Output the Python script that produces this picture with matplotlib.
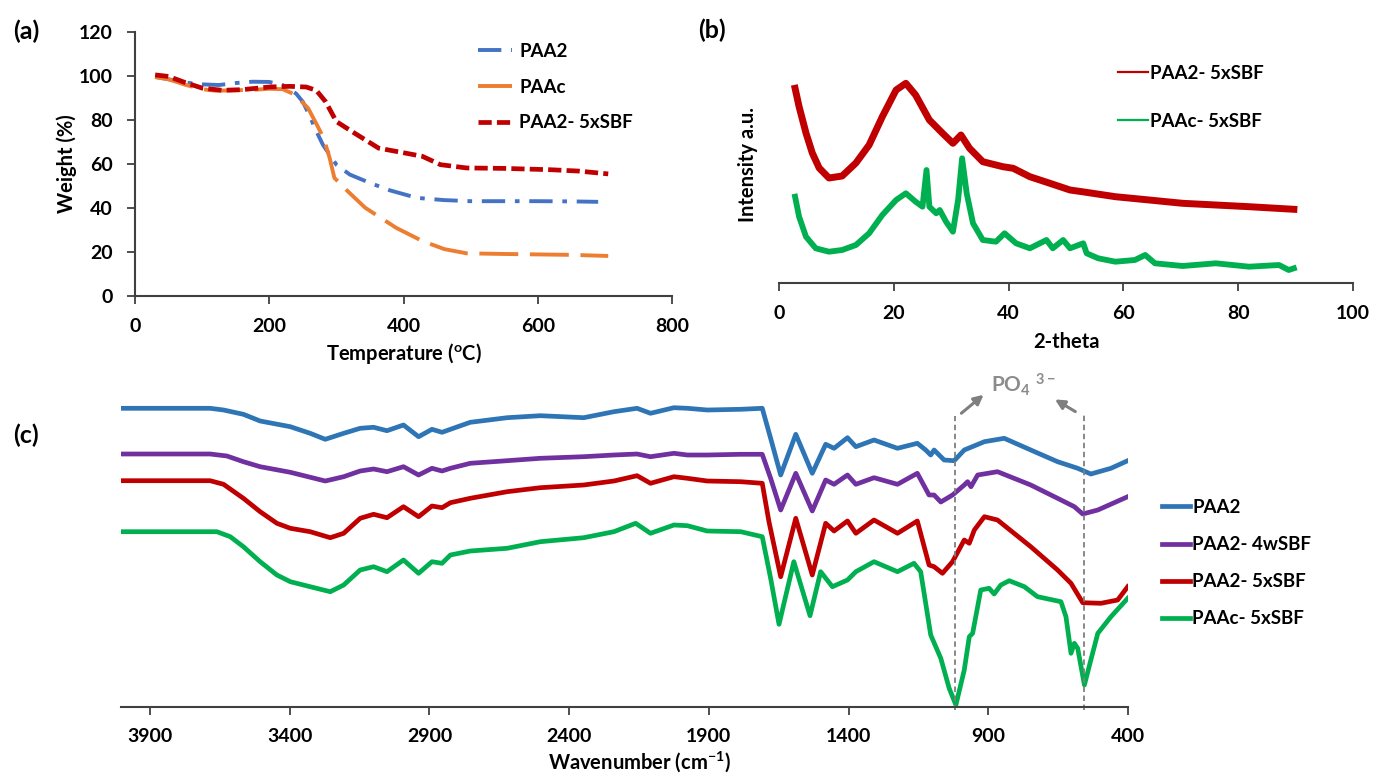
import matplotlib
matplotlib.use('Agg')
import matplotlib.pyplot as plt

plt.rcParams['font.family'] = ['Lato', 'DejaVu Sans']
plt.rcParams['font.weight'] = 'bold'
plt.rcParams['axes.labelweight'] = 'bold'
plt.rcParams['mathtext.fontset'] = 'custom'
plt.rcParams['mathtext.rm'] = 'Lato:bold'
plt.rcParams['mathtext.it'] = 'Lato:bold'
plt.rcParams['mathtext.bf'] = 'Lato:bold'

# (a) TGA
tga_paa2_T = [30, 50, 75, 100, 125, 150, 175, 200, 220, 240, 250, 260, 270, 280, 290, 300,
              320, 350, 380, 420, 460, 500, 550, 600, 650, 690]
tga_paa2_W = [99.6, 98.5, 97, 96.2, 95.9, 96.8, 97.4, 97.3, 95.9, 92, 88.3, 82, 75, 68.7, 64.2,
              59.7, 55.2, 51.4, 48, 44.6, 43.6, 43.1, 43.1, 43.1, 43.0, 42.8]
tga_paac_T = [30, 50, 75, 100, 120, 150, 180, 200, 220, 235, 244, 258, 271, 281, 290, 297,
              317, 343, 389, 428, 461, 494, 550, 600, 650, 705]
tga_paac_W = [99.5, 98.5, 96, 94, 93.3, 93.5, 93.8, 94.2, 94, 92, 89.8, 85.3, 77.8, 71.8, 62.7,
              53.7, 47.6, 40.1, 31, 25, 21.3, 19.4, 19.1, 18.9, 18.7, 18.2]
tga_sbf_T = [30, 50, 75, 100, 130, 160, 200, 230, 255, 270, 284, 300, 323, 363, 402, 428,
             455, 494, 550, 619, 660, 705]
tga_sbf_W = [100.5, 99.8, 97, 94.5, 93.5, 93.8, 95, 95.3, 95, 93.5, 88.3, 79.3, 74.8, 67.2, 65,
             63.5, 59.7, 58.2, 58, 57.4, 56.8, 55.5]
tga_xticks = [0, 200, 400, 600, 800]
tga_yticks = [0, 20, 40, 60, 80, 100, 120]

# (b) XRD
xrd_red_2t = [2.8, 3.5, 4.7, 5.8, 7.0, 8.7, 11.0, 13.4, 15.7, 18.0, 20.4, 22.1, 23.8, 26.2,
              28.5, 30.3, 31.7, 33.2, 35.5, 39.0, 40.8, 43.7, 47.2, 50.7, 52.8, 58.6, 64.5,
              70.3, 76.1, 81.9, 89.7]
xrd_red_I = [194.7, 176.3, 150, 130, 115, 105, 107, 120, 138, 166.3, 193, 199.7, 188, 163,
             149.7, 139.7, 148, 134.7, 121.3, 116.3, 114.7, 106.3, 99.7, 93, 91.3, 86.3, 83,
             79.7, 78, 76.3, 73.7]
xrd_green_2t = [2.8, 3.5, 4.7, 6.4, 8.7, 11.0, 13.4, 15.7, 18.0, 20.4, 22.1, 23.8, 25.0, 25.7,
                26.2, 27.4, 28.0, 29.1, 30.3, 31.2, 31.9, 32.7, 33.8, 35.5, 37.8, 39.3, 41.3,
                43.7, 46.6, 47.7, 49.5, 50.7, 53.0, 53.6, 55.6, 58.6, 62.0, 63.8, 65.5, 70.3,
                76.1, 81.9, 87.1, 88.8, 89.7]
xrd_green_I = [86.3, 66.3, 46.3, 34.7, 31.3, 33, 38, 49.7, 68, 83, 89.7, 81.3, 76.3, 113, 76.3,
               69.7, 73, 61.3, 51.3, 83, 124.7, 89.7, 59.7, 43, 41.3, 49.7, 39.7, 34.7, 43,
               34.7, 43, 34.7, 39.7, 29.7, 24.7, 21.3, 23, 28, 19.7, 17, 19.7, 16.3, 18, 13, 14.7]
xrd_xticks = [0, 20, 40, 60, 80, 100]

# (c) FTIR
ir_paa2_wn = [4001, 3685, 3637, 3566, 3506, 3398, 3327, 3273, 3207, 3148, 3100, 3052, 2993,
              2939, 2891, 2855, 2825, 2754, 2622, 2503, 2348, 2240, 2157, 2109, 2025, 1977,
              1906, 1786, 1709, 1679, 1643, 1589, 1530, 1482, 1452, 1404, 1374, 1309, 1225,
              1154, 1124, 1106, 1094, 1058, 1022, 986, 914, 843, 748, 652, 580, 533, 461, 401]
ir_paa2_T = [298.7, 298.7, 297, 292.7, 286, 280.3, 273.7, 267.7, 273.7, 278.7, 279.7, 276.3,
             282, 270.3, 277.7, 274.7, 277.7, 284.7, 289.3, 291.3, 289.3, 295.3, 298.7, 293.7,
             299.3, 298.7, 297, 297.7, 298.7, 268.7, 232, 272.7, 233.7, 262.7, 258.7, 269.3,
             260.3, 267, 258.7, 263.7, 257, 252, 257, 247, 246.3, 257, 265.3, 268.7, 257,
             245.3, 238.7, 233, 238.7, 246.3]
ir_4w_wn = [4001, 3685, 3625, 3566, 3506, 3398, 3273, 3207, 3148, 3100, 3052, 2993, 2939,
            2891, 2855, 2825, 2754, 2622, 2503, 2348, 2240, 2157, 2109, 2025, 1977, 1906,
            1786, 1709, 1679, 1643, 1589, 1530, 1482, 1452, 1404, 1374, 1309, 1225, 1154,
            1112, 1094, 1070, 1028, 986, 974, 962, 938, 867, 748, 652, 592, 562, 508, 401]
ir_4w_T = [253, 253, 251, 245.3, 240.3, 234.7, 226, 230.3, 236, 238, 235.3, 240.3, 232,
           238.7, 236, 238.7, 243.7, 246.3, 248.7, 250.3, 252, 253, 250.3, 253.7, 252, 252,
           252.7, 252.7, 228.7, 197, 233.7, 196, 227, 222.7, 232, 222.7, 229.3, 222.7, 233.7,
           212, 212, 205, 212, 222, 225.3, 220.3, 232, 235.3, 222, 208.7, 200.3, 193, 197, 210.3]
ir_5x_wn = [4001, 3685, 3637, 3566, 3506, 3446, 3398, 3327, 3255, 3207, 3148, 3100, 3052,
            2993, 2939, 2891, 2855, 2825, 2754, 2622, 2503, 2348, 2240, 2157, 2109, 2025,
            1977, 1906, 1786, 1709, 1685, 1643, 1589, 1530, 1482, 1452, 1404, 1374, 1309,
            1225, 1154, 1112, 1094, 1064, 1028, 986, 968, 950, 914, 867, 748, 652, 604, 562,
            497, 437, 401]
ir_5x_T = [226.3, 226.3, 222.7, 208.7, 195.3, 183.7, 178.7, 175.3, 169.3, 173.7, 188.7,
           192.7, 189.3, 200.3, 190.3, 201, 199.3, 204.3, 208.7, 215.3, 219.3, 222, 226,
           231.3, 223.7, 230.3, 228.7, 226, 225.3, 223.7, 185.3, 130.3, 188.7, 132, 183.7,
           176, 186, 173.7, 187, 173.7, 186, 142, 140.3, 133.7, 145.3, 167, 163.7, 177,
           190.3, 187, 160.3, 137, 123.7, 104.3, 103.7, 107, 120.3]
ir_paac_wn = [4001, 3661, 3613, 3566, 3506, 3446, 3398, 3327, 3255, 3207, 3148, 3100, 3052,
              2993, 2939, 2891, 2855, 2825, 2754, 2622, 2503, 2348, 2240, 2162, 2109, 2025,
              1977, 1906, 1786, 1709, 1679, 1649, 1596, 1538, 1500, 1458, 1404, 1374, 1309,
              1225, 1166, 1142, 1106, 1070, 1040, 1016, 986, 968, 956, 927, 897, 879, 855,
              825, 771, 724, 640, 622, 604, 592, 580, 556, 533, 508, 461, 401]
ir_paac_T = [175.3, 175.3, 170.3, 160.3, 145.3, 132, 125.3, 120.3, 115.3, 122, 137, 140.3,
             135.3, 147, 133.7, 145.3, 143.7, 152, 156, 158.7, 165.3, 169.3, 175.3, 183.7,
             173.7, 182, 181.3, 176, 175.3, 170.3, 128.7, 82.7, 145.3, 91.3, 135.3, 120.3, 127,
             135.3, 145.3, 135.3, 143.7, 135.3, 72, 48.7, 18.7, 2, 37, 70.3, 73.7, 117, 118.7,
             113, 122, 126.3, 120.3, 110.3, 105.3, 90.3, 53.7, 63.7, 58.7, 22, 47, 73.7, 90.3,
             108.7]
ir_xticks = [3900, 3400, 2900, 2400, 1900, 1400, 900, 400]
po4_bands = [1020, 556]

spine_c = '#404040'
tick_fs = 14
label_fs = 14.5
leg_fs = 13.5
leg_prop = {'weight': 'bold', 'size': leg_fs}
tick_kw = {'fontweight': 'bold', 'fontsize': tick_fs}

fig = plt.figure(figsize=(13.76, 7.76), dpi=100)

# ---------- (a)
ax1 = fig.add_axes([135/1376, 1-296/776, 537/1376, 264/776])
ax1.plot(tga_paa2_T, tga_paa2_W, color='#4472C4', lw=2.8, dashes=(6, 2.5, 1.2, 2.5), label='PAA2')
ax1.plot(tga_paac_T, tga_paac_W, color='#ED7D31', lw=2.8, dashes=(10, 3), label='PAAc')
ax1.plot(tga_sbf_T, tga_sbf_W, color='#C00000', lw=3.4, dashes=(2.8, 1.1), label='PAA2- 5xSBF')
ax1.set_xlim(0, 800)
ax1.set_ylim(0, 120)
ax1.set_xticks(tga_xticks, [str(t) for t in tga_xticks], **tick_kw)
ax1.set_yticks(tga_yticks, [str(t) for t in tga_yticks], **tick_kw)
ax1.set_xlabel('Temperature ($^{o}$C)', fontsize=label_fs, fontweight='bold')
ax1.set_ylabel('Weight (%)', fontsize=label_fs, fontweight='bold')
ax1.xaxis.set_label_coords(0.5, -0.17)
ax1.yaxis.set_label_coords(-0.108, 0.5)
ax1.legend(loc='upper left', bbox_to_anchor=(478/1376, 1-43/776), bbox_transform=fig.transFigure,
           frameon=False, prop=leg_prop, handlelength=1.8, handletextpad=0.4, labelspacing=1.0,
           borderpad=0, borderaxespad=0)

# ---------- (b)
ax2 = fig.add_axes([779/1376, 1-283/776, 574/1376, 243/776])
ax2.plot(xrd_red_2t, xrd_red_I, color='#C00000', lw=5, label='PAA2- 5xSBF')
ax2.plot(xrd_green_2t, xrd_green_I, color='#00B050', lw=4.2, label='PAAc- 5xSBF')
ax2.set_xlim(0, 100)
ax2.set_ylim(0, 243)
ax2.set_xticks(xrd_xticks, [str(t) for t in xrd_xticks], **tick_kw)
ax2.set_yticks([])
ax2.spines['left'].set_visible(False)
ax2.set_xlabel('2-theta', fontsize=label_fs, fontweight='bold')
ax2.set_ylabel('Intensity a.u.', fontsize=label_fs, fontweight='bold')
ax2.xaxis.set_label_coords(0.5, -0.2)
ax2.yaxis.set_label_coords(-0.037, 0.486)
leg2 = ax2.legend(loc='upper left', bbox_to_anchor=(1118/1376, 1-65/776), bbox_transform=fig.transFigure,
                  frameon=False, prop=leg_prop, handlelength=1.6, handletextpad=0.1, labelspacing=1.65,
                  borderpad=0, borderaxespad=0)
for h in leg2.legend_handles:
    h.set_linewidth(1.6)

# ---------- (c)
ax3 = fig.add_axes([121/1376, 1-707/776, 1007/1376, 337/776])
ax3.plot(ir_paa2_wn, ir_paa2_T, color='#2E75B6', lw=3.4, label='PAA2')
ax3.plot(ir_4w_wn, ir_4w_T, color='#7030A0', lw=3.4, label='PAA2- 4wSBF')
ax3.plot(ir_5x_wn, ir_5x_T, color='#C00000', lw=3.4, label='PAA2- 5xSBF')
ax3.plot(ir_paac_wn, ir_paac_T, color='#00B050', lw=3.4, label='PAAc- 5xSBF')
ax3.set_xlim(4004, 400)
ax3.set_ylim(0, 337)
ax3.set_xticks(ir_xticks, [str(t) for t in ir_xticks], **tick_kw)
ax3.set_yticks([])
ax3.spines['left'].set_visible(False)
ax3.set_xlabel('Wavenumber (cm$^{-1}$)', fontsize=label_fs, fontweight='bold')
ax3.xaxis.set_label_coords(0.515, -0.125)
for wn, top in zip(po4_bands, [291, 294]):
    ax3.plot([wn, wn], [-3, top], color='#7F7F7F', lw=1.3, ls=(0, (3, 2)), clip_on=False)
ax3.annotate('', xy=(909, 314), xytext=(1004, 292),
             arrowprops=dict(arrowstyle='-|>', color='#7F7F7F', lw=2.2, mutation_scale=14))
ax3.annotate('', xy=(670, 309), xytext=(580, 294),
             arrowprops=dict(arrowstyle='-|>', color='#7F7F7F', lw=2.2, mutation_scale=14))
ax3.text(776, 322, 'PO$_{4}$ $^{3-}$', color='#8C8C8C', fontsize=15, fontweight='bold',
         ha='center', va='center')
ax3.legend(loc='upper left', bbox_to_anchor=(1162/1376, 1-499/776), bbox_transform=fig.transFigure,
           frameon=False, prop=leg_prop, handlelength=1.5, handletextpad=0.1, labelspacing=1.07,
           borderpad=0, borderaxespad=0)

for ax in (ax1, ax2, ax3):
    ax.spines['top'].set_visible(False)
    ax.spines['right'].set_visible(False)
    for s in ('left', 'bottom'):
        ax.spines[s].set_color(spine_c)
        ax.spines[s].set_linewidth(1.5)
    ax.tick_params(direction='out', length=6, width=1.3, color=spine_c)

ax1.tick_params(axis='y', pad=10)
ax1.tick_params(axis='x', pad=10)
ax2.tick_params(axis='x', pad=9.5)
ax3.tick_params(axis='x', pad=9)

for x, y, s in [(26, 31, '(a)'), (712, 30, '(b)'), (26, 435, '(c)')]:
    fig.text(x/1376, 1-y/776, s, fontsize=18, fontweight='bold', ha='center', va='center')

fig.savefig('out.png', dpi=100)
